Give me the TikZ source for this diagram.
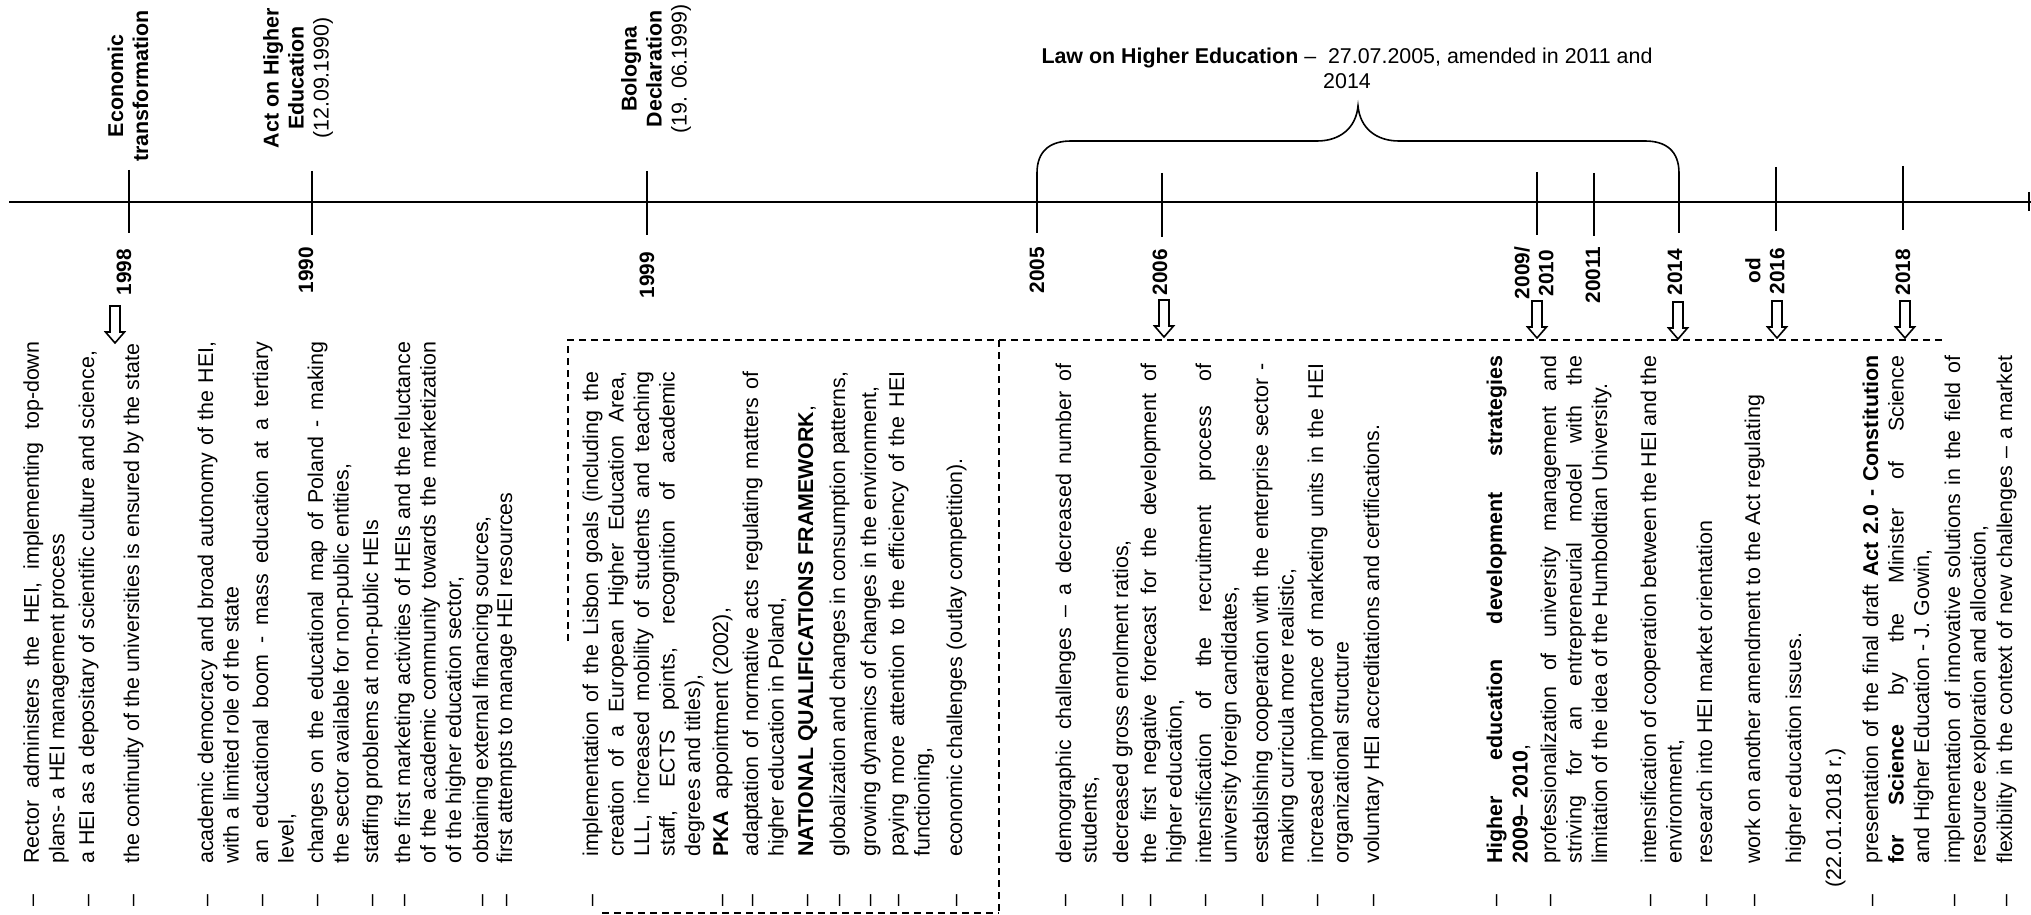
\documentclass[tikz,border=0pt]{standalone}
\usepackage{fontspec}
\setmainfont{Liberation Sans}
\newcommand\jl[1]{\makebox[\linewidth][s]{#1}}
% #1 name, #2 x of first line centre (px), #3 start y (px), #4 width, #5 body
\newcommand\litem[5]{%
  \node[txt,anchor=base west] (#1) at ({#2+6},#3) {\parbox[t]{#4}{#5}};
  \node[txt,anchor=base west] (#1d) at ({#2+6},907) {–};}
\newcommand\ltext[5]{%
  \node[txt,anchor=base west] (#1) at ({#2+6},#3) {\parbox[t]{#4}{#5}};}
\newcommand\harr[2]{%
  \draw[harrow] ({#1-5},#2) -- ({#1+5},#2) -- ({#1+5},{#2+26}) -- ({#1+9.5},{#2+26})
    -- (#1,{#2+37}) -- ({#1-9.5},{#2+26}) -- ({#1-5},{#2+26}) -- cycle;}
\begin{document}
\begin{tikzpicture}[x=0.5pt,y=-0.5pt,
  txt/.style={rotate=90,inner sep=0pt,font=\fontsize{10.7}{12.75}\selectfont},
  hdr/.style={rotate=90,inner sep=0pt,align=center,font=\fontsize{10.7}{12.5}\selectfont},
  yr/.style={rotate=90,inner sep=0pt,align=center,font=\fontsize{10.4}{12}\selectfont\bfseries},
  axis/.style={line width=1.3pt},
  tick/.style={line width=0.9pt},
  brace/.style={line width=0.8pt},
  box/.style={line width=0.9pt,dash pattern=on 3.5pt off 2.5pt},
  harrow/.style={line width=0.8pt,fill=white}]
\useasboundingbox (0,0) rectangle (2031,915);

% timeline
\coordinate (tlL) at (9,202);
\coordinate (tlR) at (2031,202);
\draw[axis] (tlL) -- (tlR);
\draw[tick] (2029,192) -- (2029,211);

% ticks
\draw[tick] (129,170) -- (129,233);
\draw[tick] (312,171) -- (312,235);
\draw[tick] (647,171) -- (647,235);
\draw[tick] (1037,202) -- (1037,233);
\draw[tick] (1162,173) -- (1162,237);
\draw[tick] (1537,172) -- (1537,235);
\draw[tick] (1594,173) -- (1594,236);
\draw[tick] (1679,202) -- (1679,233);
\draw[tick] (1776,167) -- (1776,231);
\draw[tick] (1903,166) -- (1903,230);

% brace
\draw[brace] (1037,202) -- (1037,173) .. controls (1037,151) and (1050,141) .. (1071,141)
  -- (1317,141) .. controls (1340,141) and (1356,128) .. (1358,106)
  .. controls (1360,128) and (1376,141) .. (1399,141)
  -- (1645,141) .. controls (1666,141) and (1679,151) .. (1679,173) -- (1679,202);

\node[inner sep=0pt,align=center,font=\fontsize{10.7}{12.5}\selectfont] (law) at (1347,68)
  {\textbf{Law on Higher Education} –\ \ 27.07.2005, amended in 2011 and\\2014};

% headers
\node[hdr] (h1) at (128,86) {\textbf{Economic}\\\textbf{transformation}};
\node[hdr] (h2) at (298,78) {\textbf{Act on Higher}\\\textbf{Education}\\(12.09.1990)};
\node[hdr] (h3) at (656,69) {\textbf{Bologna}\\\textbf{Declaration}\\(19. 06.1999)};

% years
\node[yr] (y1998) at (124,272) {1998};
\node[yr] (y1990) at (306,270) {1990};
\node[yr] (y1999) at (647,275) {1999};
\node[yr] (y2005) at (1037,270) {2005};
\node[yr] (y2006) at (1160,272) {2006};
\node[yr] (y2009) at (1534,273) {2009/\\2010};
\node[yr] (y2011) at (1593,275) {20011};
\node[yr] (y2014) at (1675,272) {2014};
\node[yr] (y2016) at (1765,271) {od\\2016};
\node[yr] (y2018) at (1903,272) {2018};

% dashed frames
\draw[box] (568,641) -- (568,340) -- (1943,340);
\draw[box] (999,340) -- (999,915);
\draw[box] (602,913) -- (999,913);

% hollow arrows
\harr{115}{306}
\harr{1164}{300}
\harr{1537}{301}
\harr{1678}{302}
\harr{1777}{301}
\harr{1905}{301}

% group 1
\litem{g1a}{33}{864}{261pt}{\jl{Rector administers the HEI, implementing top-down}\\plans- a HEI management process}
\litem{g1b}{88}{864}{261pt}{a HEI as a depositary of scientific culture and science,}
\litem{g1c}{133}{864}{261pt}{the continuity of the universities is ensured by the state}
\litem{g1d}{207}{864}{261pt}{\jl{academic democracy and broad autonomy of the HEI,}\\with a limited role of the state}
\litem{g1e}{262}{864}{261pt}{\jl{an educational boom - mass education at a tertiary}\\level,}
\litem{g1f}{317}{864}{261pt}{\jl{changes on the educational map of Poland - making}\\the sector available for non-public entities,}
\litem{g1g}{372}{864}{261pt}{staffing problems at non-public HEIs}
\litem{g1h}{404}{864}{261pt}{\jl{the first marketing activities of HEIs and the reluctance}\\\jl{of the academic community towards the marketization}\\of the higher education sector,}
\litem{g1i}{482}{864}{261pt}{obtaining external financing sources,}
\litem{g1j}{506}{864}{261pt}{first attempts to manage HEI resources}

% group 2
\litem{g2a}{592}{857}{242.5pt}{\jl{implementation of the Lisbon goals (including the}\\\jl{creation of a European Higher Education Area,}\\\jl{LLL, increased mobility of students and teaching}\\\jl{staff, ECTS points, recognition of academic}\\degrees and titles),}
\litem{g2b}{722}{857}{242.5pt}{\textbf{PKA}\ \ appointment (2002),}
\litem{g2c}{752}{857}{242.5pt}{\jl{adaptation of normative acts regulating matters of}\\higher education in Poland,}
\litem{g2d}{807}{857}{242.5pt}{\textbf{NATIONAL QUALIFICATIONS FRAMEWORK},}
\litem{g2e}{839}{857}{242.5pt}{globalization and changes in consumption patterns,}
\litem{g2f}{870}{857}{242.5pt}{growing dynamics of changes in the environment,}
\litem{g2g}{898}{857}{242.5pt}{\jl{paying more attention to the efficiency of the HEI}\\functioning,}
\litem{g2h}{956}{857}{242.5pt}{economic challenges (outlay competition).}

% group 3
\litem{g3a}{1065}{864}{250pt}{\jl{demographic challenges – a decreased number of}\\students,}
\litem{g3b}{1122}{864}{250pt}{decreased gross enrolment ratios,}
\litem{g3c}{1150}{864}{250pt}{\jl{the first negative forecast for the development of}\\higher education,}
\litem{g3d}{1205}{864}{250pt}{\jl{intensification of the recruitment process of}\\university foreign candidates,}
\litem{g3e}{1262}{864}{250pt}{\jl{establishing cooperation with the enterprise sector -}\\making curricula more realistic,}
\litem{g3f}{1317}{864}{250pt}{\jl{increased importance of marketing units in the HEI}\\organizational structure}
\litem{g3g}{1373}{864}{250pt}{voluntary HEI accreditations and certifications.}

% group 4
\litem{g4a}{1496}{864}{254pt}{\jl{\textbf{Higher education development strategies}}\\\textbf{2009– 2010},}
\litem{g4b}{1550}{864}{254pt}{\jl{professionalization of university management and}\\\jl{striving for an entrepreneurial model with the}\\limitation of the idea of the Humboldtian University.}
\litem{g4c}{1650}{864}{254pt}{\jl{intensification of cooperation between the HEI and the}\\environment,}
\litem{g4d}{1706}{864}{254pt}{research into HEI market orientation}
\litem{g4e}{1754}{864}{254pt}{work on another amendment to the Act regulating}
\ltext{g4e2}{1795}{864}{254pt}{higher education issues.}
\ltext{g4f}{1835}{888}{254pt}{(22.01.2018 r.)}
\litem{g4g}{1872}{864}{254pt}{\jl{presentation of the final draft \textbf{Act 2.0 - Constitution}}\\\jl{\textbf{for Science} by the Minister of Science}\\and Higher Education - J. Gowin,}
\litem{g4h}{1954}{864}{254pt}{\jl{implementation of innovative solutions in the field of}\\resource exploration and allocation,}
\litem{g4i}{2006}{864}{254pt}{\jl{flexibility in the context of new challenges – a market}}
\end{tikzpicture}
\end{document}
